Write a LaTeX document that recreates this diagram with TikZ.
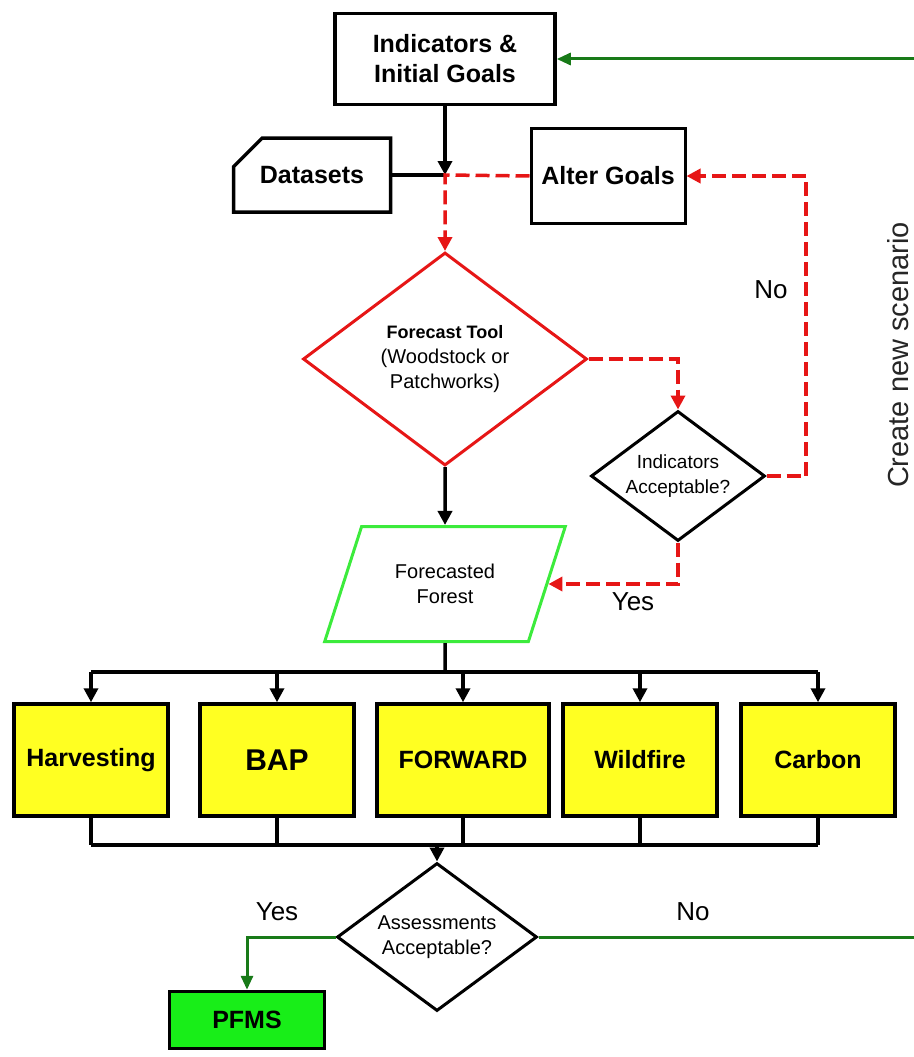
\documentclass[tikz,border=0pt]{standalone}
\usepackage{fontspec}
\setmainfont{Liberation Sans}
\usepackage{tikz}
\usetikzlibrary{arrows.meta,positioning,shapes.geometric,shapes.misc,calc}
\definecolor{fred}{RGB}{230,22,22}
\definecolor{fgreen}{RGB}{24,122,24}
\definecolor{lgreen}{RGB}{60,235,60}
\definecolor{pgreen}{RGB}{24,238,24}
\definecolor{yyellow}{RGB}{255,255,34}
\tikzset{
  box/.style={draw,line width=3.5pt,align=center,font=\bfseries\fontsize{25}{30}\selectfont,inner sep=2pt},
  ybox/.style={box,fill=yyellow,minimum width=154pt,minimum height=112pt},
  dia/.style={diamond,draw,line width=3pt,inner sep=0pt},
  txt/.style={font=\fontsize{20}{25}\selectfont,align=center},
  line/.style={line width=3.5pt},
  arr/.style={line,-{Triangle[length=14pt,width=14pt]}},
  rarr/.style={line width=3.5pt,fred,dash pattern=on 14pt off 6pt,-{Triangle[length=14pt,width=14pt]}},
  garr/.style={line width=3pt,fgreen,-{Triangle[length=14pt,width=12pt]}},
  lbl/.style={font=\fontsize{26}{30}\selectfont},
}
\begin{document}
\begin{tikzpicture}[x=1pt,y=-1pt]
\useasboundingbox (0,0) rectangle (913,1057);

% top part
\node[box,minimum width=220pt,minimum height=91pt] (goals) at (445,59) {Indicators \&\\Initial Goals};
\node[box,chamfered rectangle,chamfered rectangle corners=north west,chamfered rectangle sep=18pt,minimum width=157pt,minimum height=74pt] (data) at (312,175) {Datasets};
\node[box,line width=3pt,minimum width=154pt,minimum height=95pt] (alter) at (608,176) {Alter Goals};
\coordinate (jn) at (445,175);

\node[dia,fred,minimum width=284pt,minimum height=213pt,
  label={[txt]center:{\textbf{\fontsize{18}{25}\selectfont Forecast Tool}\\(Woodstock or\\Patchworks)}}] (fc) at (445,359) {};
\node[dia,minimum width=174pt,minimum height=130pt,
  label={[txt,font=\fontsize{19}{25}\selectfont]center:{Indicators\\Acceptable?}}] (ind) at (678,476) {};
\node[trapezium,trapezium stretches=true,trapezium left angle=63,trapezium right angle=117,
  draw=lgreen,line width=3pt,minimum width=241pt,minimum height=115pt,txt] (forest) at (445,584) {Forecasted\\Forest};

\coordinate (nocorner) at (806,176);
\draw[arr] (goals) -- (jn);
\draw[line] (data.east) -- (jn);
\draw[rarr] (alter.west) -- (jn) -- (fc.north);
\draw[rarr] (fc.east) -| (ind.north);
\draw[rarr] (ind.east) -| (nocorner) -- (alter.east);
\draw[rarr] (ind.south) |- (forest.east);
\draw[arr] (fc.south) -- (forest.north);
\node[lbl] (no1) at (771,290) {No};
\node[lbl] (yes1) at (633,602) {Yes};

% assessments
\node[ybox] (harv) at (91,760) {Harvesting};
\node[ybox,font=\bfseries\fontsize{30}{34}\selectfont] (bap) at (277,760) {BAP};
\node[ybox,minimum width=172pt] (fwd) at (463,760) {FORWARD};
\node[ybox] (fire) at (640,760) {Wildfire};
\node[ybox] (carb) at (818,760) {Carbon};

\coordinate (bus) at (445,672);
\coordinate (bot) at (437,845);
\draw[line] (forest.south) -- (bus);
\draw[line] (harv.north |- bus) -- (carb.north |- bus);
\draw[line] (harv.south |- bot) -- (carb.south |- bot);
\foreach \b in {harv,bap,fwd,fire,carb}{
  \draw[arr] (\b.north |- bus) -- (\b.north);
  \draw[line] (\b.south) -- (\b.south |- bot);
}

\node[dia,minimum width=200pt,minimum height=148pt,
  label={[txt]center:{Assessments\\Acceptable?}}] (asm) at (437,937) {};
\draw[arr] (bot) -- (asm.north);
\node[box,fill=pgreen,minimum width=155pt,minimum height=57pt] (pfms) at (247,1020) {PFMS};

\coordinate (eb) at (920,937);
\coordinate (et) at (920,59);
\draw[garr] (asm.west) -| (pfms.north);
\draw[garr] (asm.east) -- (eb) -- (et) -- (goals.east);
\node[lbl] (yes2) at (277,912) {Yes};
\node[lbl] (no2) at (693,912) {No};
\node[font=\fontsize{29}{32}\selectfont,rotate=90,text=black!85,inner sep=1pt] (scen) at (898,355) {Create new scenario};
\end{tikzpicture}
\end{document}
